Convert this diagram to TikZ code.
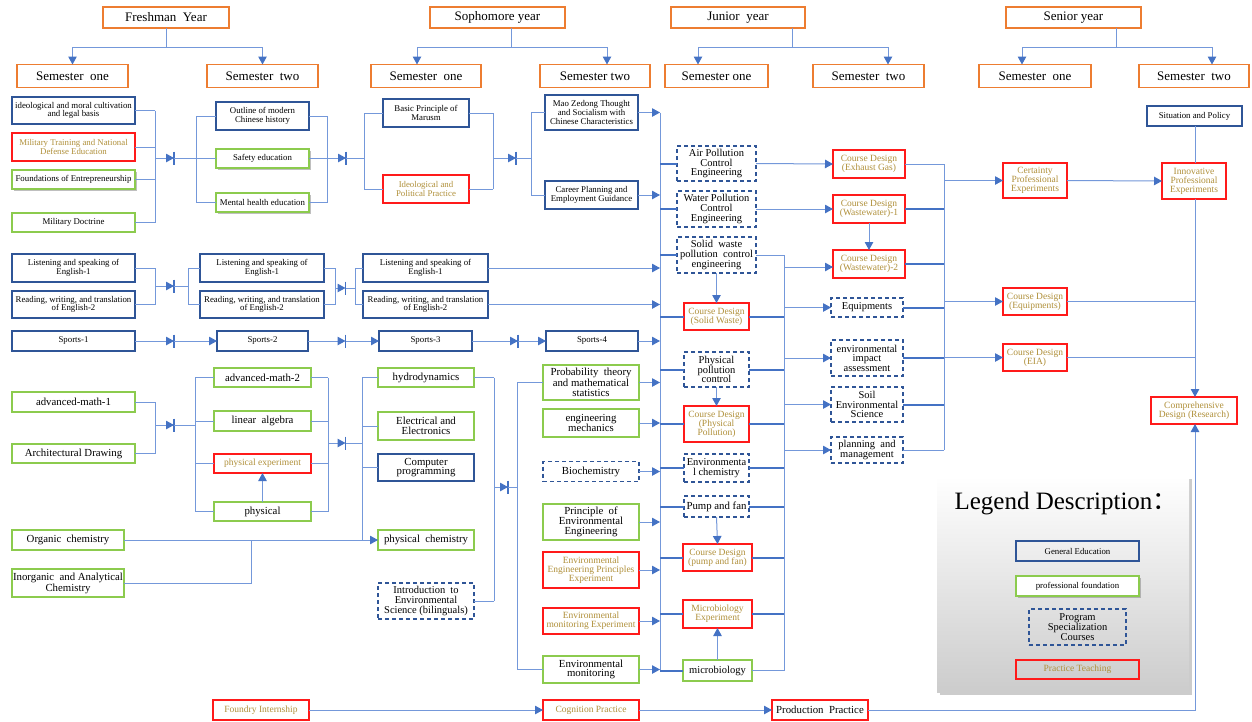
\documentclass[tikz,border=0pt]{standalone}
\usepackage{fontspec}
\setmainfont{Liberation Serif}
\newfontfamily\cjkfont{Noto Sans CJK SC}
\usetikzlibrary{arrows.meta,shadows,calc}
\definecolor{orC}{HTML}{ED7D31}
\definecolor{geC}{HTML}{2F5597}
\definecolor{prC}{HTML}{8CCB4E}
\definecolor{rdC}{HTML}{FF1A1A}
\definecolor{lnC}{HTML}{7498DA}
\definecolor{arC}{HTML}{4472C4}
\definecolor{goC}{HTML}{B0903A}
\tikzset{
 sz/.style 2 args={minimum width=#1,minimum height=#2},
 bx/.style={line width=1.3pt, inner sep=1pt, align=center, outer sep=0pt},
 hdr/.style={bx, draw=orC, font=\fontsize{13}{14}\selectfont},
 gen/.style={bx, draw=geC},
 pro/.style={bx, draw=prC},
 psc/.style={bx, draw=geC, dash pattern=on 4pt off 3pt},
 prac/.style={bx, draw=rdC, text=goC},
 shd/.style={fill=white, drop shadow={shadow xshift=2pt, shadow yshift=-2pt, opacity=0.5}},
 tA/.style={font=\fontsize{8.8}{8.6}\selectfont},
 tB/.style={font=\fontsize{10.5}{9.6}\selectfont},
 tC/.style={font=\fontsize{10.8}{9.8}\selectfont},
 tD/.style={font=\fontsize{9.5}{9}\selectfont},
 ln/.style={draw=lnC, line width=1pt},
 ar/.style={ln, -{Triangle[length=8pt,width=8.5pt,color=arC]}},
 tk/.style={draw=arC, line width=2pt},
 barS/.style={draw=arC, line width=1.5pt},
}
\newcommand{\jbar}[1]{\draw[barS] ([yshift=6.5pt]#1) -- ([yshift=-6.5pt]#1);}
\begin{document}
\begin{tikzpicture}[x=1pt,y=-1pt]
\fill[white] (0,0) rectangle (1252,721);
\useasboundingbox (0,0) rectangle (1252,721);

% legend background
\node[sz={252}{216}, inner sep=0, top color=white, bottom color=black!20, drop shadow={shadow xshift=3pt,shadow yshift=-3pt,opacity=0.4}] (leg) at (1063,584) {};
\node[font=\fontsize{25}{28}\selectfont, inner sep=0] (lgt) at (1066,504) {Legend Description{\cjkfont ：}};
\node[gen,tA,sz={123}{20}] (lg1) at (1077.5,551) {General Education};
\node[pro,shd,tA,sz={123}{20}] (lg2) at (1077.5,586) {professional foundation};
\node[psc,tB,sz={97}{36}] (lg3) at (1077.5,627) {Program\\Specialization\\Courses};
\node[prac,tD,sz={123}{19}] (lg4) at (1077.5,669.5) {Practice Teaching};

% headers
\node[hdr,sz={126}{21}] (fy) at (166,17.5) {Freshman\ \ Year};
\node[hdr,sz={135}{21}] (sy) at (497.5,17.5) {Sophomore year};
\node[hdr,sz={134}{21}] (jy) at (738,17.5) {Junior\ \ year};
\node[hdr,sz={135}{21}] (ry) at (1073.5,17.5) {Senior year};
\node[hdr,sz={111}{23}] (fs1) at (72.5,76) {Semester\ \ one};
\node[hdr,sz={111}{23}] (fs2) at (262.5,76) {Semester\ \ two};
\node[hdr,sz={110}{23}] (ss1) at (426,76) {Semester\ \ one};
\node[hdr,sz={110}{23}] (ss2) at (595,76) {Semester two};
\node[hdr,sz={103}{23}] (js1) at (716.5,76) {Semester one};
\node[hdr,sz={111}{23}] (js2) at (868.5,76) {Semester\ \ two};
\node[hdr,sz={112}{23}] (rs1) at (1035,76) {Semester\ \ one};
\node[hdr,sz={110}{23}] (rs2) at (1194,76) {Semester\ \ two};

\coordinate (fyj) at (166,47.5);
\draw[ln] (fy.south) -- (fyj);
\draw[ar] (fyj) -| (fs1.north);
\draw[ar] (fyj) -| (fs2.north);
\coordinate (syj) at (511,47.5);
\draw[ln] (syj |- sy.south) -- (syj);
\draw[ar] (syj) -| ([xshift=-9pt]ss1.north);
\draw[ar] (syj) -| ([xshift=12pt]ss2.north);
\coordinate (jyj) at (792,47.5);
\draw[ln] (jyj |- jy.south) -- (jyj);
\draw[ar] (jyj) -| ([xshift=-18.5pt]js1.north);
\draw[ar] (jyj) -| ([xshift=19.5pt]js2.north);
\coordinate (ryj) at (1116,47.5);
\draw[ln] (ryj |- ry.south) -- (ryj);
\draw[ar] (ryj) -| ([xshift=-13pt]rs1.north);
\draw[ar] (ryj) -| ([xshift=18pt]rs2.north);

% bus coordinates
\coordinate (bA) at (155,0);
\coordinate (bB) at (196,0);
\coordinate (bC) at (327,0);
\coordinate (bD) at (364,0);
\coordinate (bE) at (493,0);
\coordinate (bF) at (531,0);
\coordinate (bG) at (188,0);
\coordinate (bH) at (335,0);
\coordinate (bI) at (355,0);
\coordinate (bJ) at (195,0);
\coordinate (bK) at (328,0);
\coordinate (bL) at (362,0);
\coordinate (bM) at (251,0);
\coordinate (bN) at (494,0);
\coordinate (bO) at (517,0);
\coordinate (bus1) at (660,0);
\coordinate (bus2) at (784,0);
\coordinate (bus3) at (944,0);
\coordinate (bus4) at (1195,0);

% ---------- Freshman semester one, first group
\node[gen,tA,sz={123}{27}] (ideo) at (73.5,110.5) {ideological and moral cultivation\\and legal basis};
\node[prac,tA,sz={123}{28}] (milt) at (73.5,147) {Military Training and National\\Defense Education};
\node[pro,shd,tA,sz={123}{19}] (fdn) at (73.5,179.5) {Foundations of Entrepreneurship};
\node[pro,tA,sz={123}{19}] (mild) at (73.5,222.5) {Military Doctrine};
\foreach \n in {ideo,milt,fdn,mild} \draw[ln] (\n.east) -- (\n.east -| bA);
\draw[ln] (ideo.east -| bA) -- (mild.east -| bA);
\coordinate (jA) at (174,158);
\draw[ar] (jA -| bA) -- (jA); \jbar{jA}
\draw[ln] (jA) -- (jA -| bB);

\node[gen,tA,sz={93}{28}] (outl) at (262.5,116) {Outline of modern\\Chinese history};
\node[pro,shd,tA,sz={93}{19}] (safe) at (262.5,158.5) {Safety education};
\node[pro,shd,tA,sz={93}{19}] (ment) at (262.5,202.5) {Mental health education};
\draw[ln] (outl.west -| bB) -- (ment.west -| bB);
\foreach \n in {outl,safe,ment} \draw[ln] (\n.west -| bB) -- (\n.west);
\foreach \n in {outl,safe,ment} \draw[ln] (\n.east) -- (\n.east -| bC);
\draw[ln] (outl.east -| bC) -- (ment.east -| bC);
\coordinate (jB) at (346,158);
\draw[ar] (jB -| bC) -- (jB); \jbar{jB}
\draw[ln] (jB) -- (jB -| bD);

\node[gen,tA,sz={86}{28}] (bpm) at (426,113) {Basic Principle of\\Marusm};
\node[prac,tA,sz={86}{28}] (ipp) at (426,189) {Ideological and\\Political Practice};
\draw[ln] (bpm.west -| bD) -- (ipp.west -| bD);
\foreach \n in {bpm,ipp} \draw[ln] (\n.west -| bD) -- (\n.west);
\foreach \n in {bpm,ipp} \draw[ln] (\n.east) -- (\n.east -| bE);
\draw[ln] (bpm.east -| bE) -- (ipp.east -| bE);
\coordinate (jC) at (516,158);
\draw[ar] (jC -| bE) -- (jC); \jbar{jC}
\draw[ln] (jC) -- (jC -| bF);

\node[gen,tA,sz={93}{35}] (mao) at (591.5,112.5) {Mao Zedong Thought\\and Socialism with\\Chinese Characteristics};
\node[gen,tA,sz={93}{28}] (cpeg) at (591.5,195) {Career Planning and\\Employment Guidance};
\draw[ln] (mao.west -| bF) -- (cpeg.west -| bF);
\foreach \n in {mao,cpeg} \draw[ln] (\n.west -| bF) -- (\n.west);

% ---------- English
\node[gen,tA,sz={123}{28}] (le1) at (73.5,268) {Listening and speaking of\\English-1};
\node[gen,tA,sz={123}{27}] (rw1) at (73.5,304.5) {Reading, writing, and translation\\of English-2};
\foreach \n in {le1,rw1} \draw[ln] (\n.east) -- (\n.east -| bA);
\draw[ln] (le1.east -| bA) -- (rw1.east -| bA);
\coordinate (jD) at (174,286);
\draw[ar] (jD -| bA) -- (jD); \jbar{jD}
\draw[ln] (jD) -- (jD -| bG);
\node[gen,tA,sz={124}{28}] (le2) at (262,268) {Listening and speaking of\\English-1};
\node[gen,tA,sz={124}{27}] (rw2) at (262,304.5) {Reading, writing, and translation\\of English-2};
\draw[ln] (le2.west -| bG) -- (rw2.west -| bG);
\foreach \n in {le2,rw2} \draw[ln] (\n.west -| bG) -- (\n.west);
\foreach \n in {le2,rw2} \draw[ln] (\n.east) -- (\n.east -| bH);
\draw[ln] (le2.east -| bH) -- (rw2.east -| bH);
\coordinate (jE) at (345.5,288);
\draw[ar] (jE -| bH) -- (jE); \jbar{jE}
\draw[ln] (jE) -- (jE -| bI);
\node[gen,tA,sz={125}{28}] (le3) at (425.5,268) {Listening and speaking of\\English-1};
\node[gen,tA,sz={125}{27}] (rw3) at (425.5,304.5) {Reading, writing, and translation\\of English-2};
\draw[ln] (le3.west -| bI) -- (rw3.west -| bI);
\foreach \n in {le3,rw3} \draw[ln] (\n.west -| bI) -- (\n.west);

% ---------- Sports
\node[gen,tA,sz={123}{20}] (sp1) at (73.5,341) {Sports-1};
\node[gen,tA,sz={91}{20}] (sp2) at (262.5,341) {Sports-2};
\node[gen,tA,sz={93}{20}] (sp3) at (425.5,341) {Sports-3};
\node[gen,tA,sz={92}{20}] (sp4) at (592,341) {Sports-4};
\coordinate (jF) at (174,341);
\coordinate (jG) at (345.5,341);
\coordinate (jH) at (518,341);
\draw[ar] (sp1.east) -- (jF); \jbar{jF} \draw[ar] (jF) -- (sp2.west);
\draw[ar] (sp2.east) -- (jG); \jbar{jG} \draw[ar] (jG) -- (sp3.west);
\draw[ar] (sp3.east) -- (jH); \jbar{jH} \draw[ar] (jH) -- (sp4.west);

% ---------- Math / science
\node[pro,tC,sz={123}{20}] (am1) at (73.5,402) {advanced-math-1};
\node[pro,tC,sz={123}{19}] (ad) at (73.5,453.5) {Architectural Drawing};
\foreach \n in {am1,ad} \draw[ln] (\n.east) -- (\n.east -| bA);
\draw[ln] (am1.east -| bA) -- (ad.east -| bA);
\coordinate (jI) at (174,425);
\draw[ar] (jI -| bA) -- (jI); \jbar{jI}
\draw[ln] (jI) -- (jI -| bJ);
\node[pro,tC,sz={97}{19}] (am2) at (262.5,377.5) {advanced-math-2};
\node[pro,tC,sz={97}{20}] (la) at (262.5,421) {linear\ \ algebra};
\node[prac,tD,sz={97}{19}] (pe) at (262.5,463.5) {physical experiment};
\node[pro,tC,sz={97}{19}] (ph) at (262.5,511.5) {physical};
\draw[ln] (am2.west -| bJ) -- (ph.west -| bJ);
\foreach \n in {am2,la,pe,ph} \draw[ln] (\n.west -| bJ) -- (\n.west);
\draw[ar] (ph.north) -- (pe.south);
\foreach \n in {am2,la,pe,ph} \draw[ln] (\n.east) -- (\n.east -| bK);
\draw[ln] (am2.east -| bK) -- (ph.east -| bK);
\coordinate (jJ) at (345.5,443);
\draw[ar] (jJ -| bK) -- (jJ); \jbar{jJ}
\draw[ln] (jJ) -- (jJ -| bL);

\node[pro,tC,sz={96}{19}] (hy) at (426,377.5) {hydrodynamics};
\node[pro,tC,sz={96}{28}] (ee) at (426,426) {Electrical\ and\\Electronics};
\node[gen,tC,sz={96}{27}] (cp) at (426,467.5) {Computer\\programming};
\node[pro,tC,sz={96}{20}] (pc) at (426,540) {physical\ \ chemistry};
\draw[ln] (hy.west -| bL) -- (pc.west -| bL);
\foreach \n in {hy,ee,cp} \draw[ln] (\n.west -| bL) -- (\n.west);

\node[pro,tC,sz={112}{20}] (oc) at (68,540) {Organic\ \ chemistry};
\node[pro,tC,sz={112}{28}] (ia) at (68,583) {Inorganic\ \ and Analytical\\Chemistry};
\draw[ar] (oc.east) -- (pc.west);
\draw[ln] (ia.east) -| (bM |- oc.east);

\node[psc,tB,sz={96}{36}] (ie) at (426,601) {Introduction\ \ to\\Environmental\\Science (bilinguals)};
\draw[ln] (hy.east) -- (hy.east -| bN);
\draw[ln] (ie.east) -- (ie.east -| bN);
\draw[ln] (hy.east -| bN) -- (ie.east -| bN);
\coordinate (jK) at (508,487);
\draw[ar] (jK -| bN) -- (jK); \jbar{jK}
\draw[ln] (jK) -- (jK -| bO);

% ---------- Sophomore semester two, lower
\node[pro,tC,sz={96}{35}] (prob) at (591,382.5) {Probability\ \ theory\\and mathematical\\statistics};
\node[pro,tC,sz={96}{28}] (em) at (591,423) {engineering\\mechanics};
\node[psc,tC,sz={96}{20}] (bio) at (591,471.5) {Biochemistry};
\node[pro,tC,sz={96}{36}] (pee) at (591,522) {Principle\ \ of\\Environmental\\Engineering};
\node[prac,tD,sz={96}{36}] (eepe) at (591,570) {Environmental\\Engineering Principles\\Experiment};
\node[prac,tD,sz={96}{26}] (eme) at (591,621) {Environmental\\monitoring Experiment};
\node[pro,tC,sz={96}{27}] (emo) at (591,669.5) {Environmental\\monitoring};
\draw[ln] (prob.west -| bO) -- (emo.west -| bO);
\foreach \n in {prob,emo} \draw[ln] (\n.west -| bO) -- (\n.west);

% ---------- bus 1
\draw[ln] (mao.east -| bus1) -- (emo.east -| bus1);
\foreach \n in {mao,cpeg,le3,rw3,sp4,prob,em,bio,pee,eepe,eme,emo} \draw[ar] (\n.east) -- (\n.east -| bus1);

% ---------- Junior semester one
\node[psc,tB,sz={79}{35}] (ap) at (716.5,163.5) {Air Pollution\\Control\\Engineering};
\node[psc,tB,sz={79}{36}] (wp) at (716.5,209) {Water Pollution\\Control\\Engineering};
\node[psc,tB,sz={79}{36}] (sw) at (716.5,255) {Solid\ \ waste\\pollution\ \ control\\engineering};
\node[prac,tD,sz={65}{27}] (cdsw) at (716.5,316.5) {Course Design\\(Solid Waste)};
\node[psc,tB,sz={65}{35}] (ppc) at (716.5,369.5) {Physical\\pollution\\control};
\node[prac,tD,sz={65}{36}] (cdpp) at (716.5,424) {Course Design\\(Physical\\Pollution)};
\node[psc,tB,sz={65}{28}] (ec) at (716.5,468) {Environmenta\\l chemistry};
\node[psc,tC,sz={65}{21}] (pf) at (716.5,506.5) {Pump and fan};
\node[prac,tD,sz={69}{27}] (cdpf) at (717.5,557.5) {Course Design\\(pump and fan)};
\node[prac,tD,sz={69}{28}] (mex) at (717.5,614) {Microbiology\\Experiment};
\node[pro,tB,sz={69}{21}] (mic) at (717.5,670.5) {microbiology};
\foreach \n in {ap,wp,sw,cdsw,ppc,cdpp,ec,pf,cdpf,mex,mic} \draw[tk] (\n.west -| bus1) -- (\n.west);
\draw[ar] (sw.south) -- (cdsw.north);
\draw[ar] (ppc.south) -- (cdpp.north);
\draw[ar] (pf.south) -- (cdpf.north);
\draw[ar] (mic.north) -- (mex.south);

% ---------- Junior semester two
\node[prac,tD,sz={72}{28}] (ceg) at (869,164) {Course Design\\(Exhaust Gas)};
\node[prac,tD,sz={72}{28}] (cw1) at (869,209) {Course Design\\(Wastewater)-1};
\node[prac,tD,sz={72}{28}] (cw2) at (869,264) {Course Design\\(Wastewater)-2};
\node[psc,tB,sz={72}{19}] (eq) at (867,307.5) {Equipments};
\node[psc,tB,sz={72}{36}] (eia) at (867,358) {environmental\\impact\\assessment};
\node[psc,tB,sz={72}{35}] (soil) at (867,404.5) {Soil\\Environmental\\Science};
\node[psc,tB,sz={72}{26}] (pm) at (867,450) {planning\ \ and\\management};
\draw[ar] (ap.east) -- (ceg.west);
\draw[ar] (wp.east) -- (cw1.west);
\draw[ar] (cw1.south) -- (cw2.north);

% bus 2
\draw[ln] (sw.east) -- (sw.east -| bus2);
\draw[ln] (mic.east) -- (mic.east -| bus2);
\draw[ln] (sw.east -| bus2) -- (mic.east -| bus2);
\foreach \n in {cdsw,ppc,cdpp,ec,pf,cdpf,mex} \draw[tk] (\n.east) -- (\n.east -| bus2);
\draw[ar] ([yshift=-3pt]cw2.west -| bus2) -- ([yshift=-3pt]cw2.west);
\foreach \n in {eq,eia,soil,pm} \draw[ar] (\n.west -| bus2) -- (\n.west);

% bus 3
\draw[ln] (ceg.east) -- (ceg.east -| bus3);
\draw[ln] (pm.east) -- (pm.east -| bus3);
\draw[ln] (ceg.east -| bus3) -- (pm.east -| bus3);
\foreach \n in {cw1,cw2,eq,eia,soil} \draw[tk] (\n.east) -- (\n.east -| bus3);

% ---------- Senior
\node[prac,tD,sz={64}{35}] (cpe) at (1035,180.5) {Certainty\\Professional\\Experiments};
\node[prac,tD,sz={64}{27}] (cde) at (1035,301.5) {Course Design\\(Equipments)};
\node[prac,tD,sz={64}{27}] (cdeia) at (1035,357.5) {Course Design\\(EIA)};
\foreach \n in {cpe,cde,cdeia} \draw[ar] (\n.west -| bus3) -- (\n.west);
\node[gen,tA,sz={95}{20}] (sap) at (1194.5,116) {Situation and Policy};
\node[prac,tD,sz={64}{36}] (ipe) at (1194,181) {Innovative\\Professional\\Experiments};
\node[prac,tD,sz={86}{27}] (cdr) at (1194,410.5) {Comprehensive\\Design (Research)};
\draw[ar] (cpe.east) -- (ipe.west);
\draw[ln] (sap.south -| bus4) -- (ipe.north -| bus4);
\draw[ar] (ipe.south -| bus4) -- (cdr.north -| bus4);
\draw[ln] (cde.east) -- (cde.east -| bus4);
\draw[ln] (cdeia.east) -- (cdeia.east -| bus4);

% ---------- Bottom row
\node[prac,tD,sz={96}{20}] (fi) at (261,710) {Foundry Internship};
\node[prac,tD,sz={96}{20}] (cgp) at (591,710) {Cognition Practice};
\node[bx,draw=rdC,tC,sz={96}{20}] (pp) at (820,710) {Production\ \ Practice};
\draw[ar] (fi.east) -- (cgp.west);
\draw[ar] (cgp.east) -- (pp.west);
\draw[ar] (pp.east) -| (cdr.south -| bus4);
\end{tikzpicture}
\end{document}
